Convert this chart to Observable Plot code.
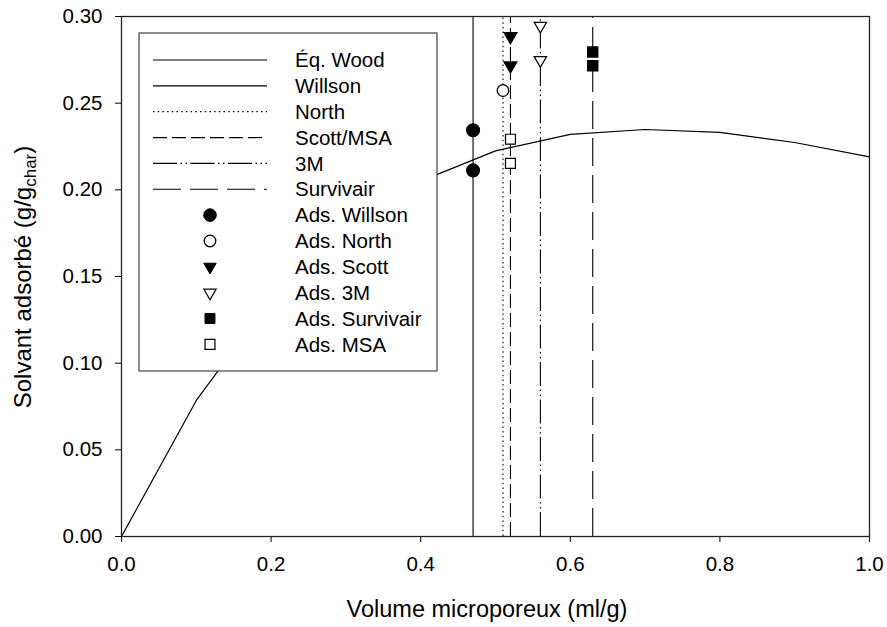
<!DOCTYPE html>
<html>
<head>
<meta charset="utf-8">
<script src="https://cdn.jsdelivr.net/npm/d3@7"></script>
<script src="https://cdn.jsdelivr.net/npm/@observablehq/plot@0.6"></script>
<style>
  html, body { margin: 0; padding: 0; background: #fff; }
  #chart svg { display: block; }
</style>
</head>
<body>
<div id="chart"></div>
<script>
// ---- data ----
const woodX = [0, 0.1, 0.2, 0.3, 0.4, 0.5, 0.6, 0.7, 0.8, 0.9, 1.0];
const woodY = [0, 0.0785, 0.137, 0.178, 0.205, 0.2225, 0.232, 0.2348, 0.2331, 0.2273, 0.219];

const ruleNames = ["Willson", "North", "Scott/MSA", "3M", "Survivair"];
const ruleX = [0.47, 0.51, 0.52, 0.56, 0.63];

const adsWillsonX = [0.47, 0.47], adsWillsonY = [0.2344, 0.2112];
const adsNorthX = [0.51], adsNorthY = [0.2573];
const adsScottX = [0.52, 0.52], adsScottY = [0.2885, 0.2717];
const ads3MX = [0.56, 0.56], ads3MY = [0.2946, 0.2748];
const adsSurvivairX = [0.63, 0.63], adsSurvivairY = [0.2795, 0.2716];
const adsMSAX = [0.52, 0.52], adsMSAY = [0.2292, 0.2153];

const xTicks = [0, 0.2, 0.4, 0.6, 0.8, 1.0];
const yTicks = [0, 0.05, 0.10, 0.15, 0.20, 0.25, 0.30];

const legendLabels = ["Éq. Wood", "Willson", "North", "Scott/MSA", "3M", "Survivair",
  "Ads. Willson", "Ads. North", "Ads. Scott", "Ads. 3M", "Ads. Survivair", "Ads. MSA"];

// ---- styles ----
const dashes = {
  "Willson": null,
  "North": "1.5,3.2",
  "Scott/MSA": "14,5",
  "3M": "24,3.5,1.5,3.5,1.5,3.5",
  "Survivair": "28,9"
};

const pts = (X, Y) => X.map((x, i) => ({x, y: Y[i]}));
const wood = pts(woodX, woodY);
const rules = ruleNames.map((n, i) => ({name: n, x: ruleX[i], y1: 0, y2: 0.30}));

const W = 887, H = 627;
const M = {left: 121, right: 18, top: 16, bottom: 91};
const FONT = "Liberation Sans, Arial, Helvetica, sans-serif";
const TICKFS = 20.5;

const ruleMarks = rules.map(r => Plot.ruleX([r], {
  x: "x", y1: "y1", y2: "y2", stroke: "black", strokeWidth: 1.1,
  strokeDasharray: dashes[r.name] || undefined
}));

const plot = Plot.plot({
  width: W, height: H,
  marginLeft: M.left, marginRight: M.right, marginTop: M.top, marginBottom: M.bottom,
  style: {fontFamily: FONT, fontSize: TICKFS + "px", color: "black", background: "white"},
  x: {domain: [0, 1]},
  y: {domain: [0, 0.30]},
  marks: [
    Plot.line(wood, {x: "x", y: "y", stroke: "black", strokeWidth: 1.2}),
    ...ruleMarks,
    Plot.dot(pts(adsWillsonX, adsWillsonY), {x: "x", y: "y", symbol: "circle", r: 6.3, fill: "black", stroke: "black"}),
    Plot.dot(pts(adsNorthX, adsNorthY), {x: "x", y: "y", symbol: "circle", r: 5.8, fill: "white", stroke: "black", strokeWidth: 1.3}),
    Plot.dot(pts(adsScottX, adsScottY), {x: "x", y: "y", symbol: "triangle", rotate: 180, r: 4.6, fill: "black", stroke: "black"}),
    Plot.dot(pts(ads3MX, ads3MY), {x: "x", y: "y", symbol: "triangle", rotate: 180, r: 4.6, fill: "white", stroke: "black", strokeWidth: 1.2}),
    Plot.dot(pts(adsSurvivairX, adsSurvivairY), {x: "x", y: "y", symbol: "square", r: 5.6, fill: "black", stroke: "black"}),
    Plot.dot(pts(adsMSAX, adsMSAY), {x: "x", y: "y", symbol: "square", r: 5.6, fill: "white", stroke: "black", strokeWidth: 1.2}),
    Plot.axisX({ticks: xTicks, tickFormat: d3.format(".1f"), tickSize: 6, tickPadding: 14, label: null, fontSize: TICKFS}),
    Plot.axisY({ticks: yTicks, tickFormat: d3.format(".2f"), tickSize: 6, tickPadding: 13, label: null, fontSize: TICKFS}),
    Plot.frame({stroke: "#222", strokeWidth: 1.3})
  ]
});

document.getElementById("chart").appendChild(plot);

// ---- axis titles & legend ----
const svg = d3.select(plot);

svg.append("text")
  .attr("x", 487).attr("y", 617)
  .attr("text-anchor", "middle")
  .style("font-family", FONT).style("font-size", "23.5px").attr("fill", "black")
  .text("Volume microporeux (ml/g)");

const yl = svg.append("text")
  .attr("transform", `translate(31,277) rotate(-90)`)
  .attr("text-anchor", "middle")
  .style("font-family", FONT).style("font-size", "24px").attr("fill", "black");
yl.append("tspan").text("Solvant adsorbé (g/g");
yl.append("tspan").attr("dy", 5).style("font-size", "17px").text("char");
yl.append("tspan").attr("dy", -5).text(")");

// legend
const L = {x: 139, y: 33, w: 298, h: 338, row0: 60, step: 25.85, lx1: 153, lx2: 267, mx: 210, tx: 295};
const lg = svg.append("g").attr("text-anchor", "start");
lg.append("rect").attr("x", L.x).attr("y", L.y).attr("width", L.w).attr("height", L.h)
  .attr("fill", "white").attr("stroke", "#444").attr("stroke-width", 1.2);

const lineKeys = [null, "Willson", "North", "Scott/MSA", "3M", "Survivair"];
const symbolSpecs = [
  {type: d3.symbolCircle, r: 6.3, fill: "black", sw: 1},
  {type: d3.symbolCircle, r: 5.8, fill: "white", sw: 1.3},
  {type: d3.symbolTriangle, r: 4.6, fill: "black", sw: 1, rot: 180},
  {type: d3.symbolTriangle, r: 4.6, fill: "white", sw: 1.2, rot: 180},
  {type: d3.symbolSquare, r: 5.6, fill: "black", sw: 1},
  {type: d3.symbolSquare, r: 5.6, fill: "white", sw: 1.2}
];

legendLabels.forEach((lab, i) => {
  const y = L.row0 + i * L.step;
  if (i < 6) {
    const key = lineKeys[i];
    const d = key ? dashes[key] : null;
    const ln = lg.append("line").attr("x1", L.lx1).attr("x2", L.lx2).attr("y1", y).attr("y2", y)
      .attr("stroke", "black").attr("stroke-width", 1.2);
    if (d) ln.attr("stroke-dasharray", d);
  } else {
    const s = symbolSpecs[i - 6];
    lg.append("path")
      .attr("d", d3.symbol(s.type, Math.PI * s.r * s.r)())
      .attr("transform", `translate(${L.mx},${y})` + (s.rot ? ` rotate(${s.rot})` : ""))
      .attr("fill", s.fill).attr("stroke", "black").attr("stroke-width", s.sw);
  }
  lg.append("text").attr("x", L.tx).attr("y", y).attr("dy", "0.35em")
    .attr("text-anchor", "start")
    .style("font-family", FONT).style("font-size", TICKFS + "px").attr("fill", "black")
    .text(lab);
});
</script>
</body>
</html>
